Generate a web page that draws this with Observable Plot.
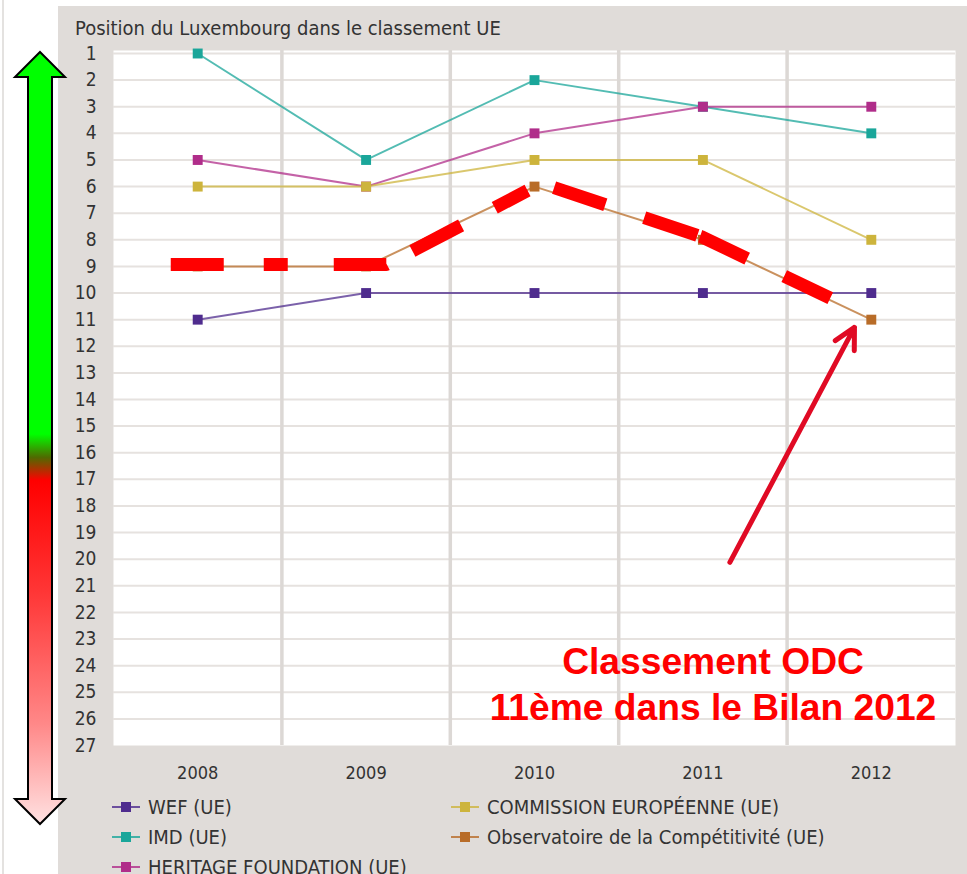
<!DOCTYPE html>
<html><head><meta charset="utf-8">
<script src="https://cdn.jsdelivr.net/npm/d3@7"></script>
<script src="https://cdn.jsdelivr.net/npm/@observablehq/plot@0.6"></script>
<style>
html,body{margin:0;padding:0;background:#fff;width:967px;height:874px;overflow:hidden;position:relative;}
.edge{position:absolute;left:2px;top:0;width:2px;height:874px;background:#e4e2e0;}
#panel{position:absolute;left:58px;top:6px;width:909px;height:868px;background:#e0dcd9;font-family:"DejaVu Sans Condensed","DejaVu Sans",sans-serif;font-stretch:condensed;color:#333;}
#title{height:34px;box-sizing:border-box;padding:10px 0 0 17px;font-size:20px;line-height:24px;white-space:nowrap;}
#chart svg{display:block;}
#chart [aria-label="y-axis tick label"] text{font-size:19px;}
#chart [aria-label="x-axis tick label"] text{font-size:18px;}
#legend{display:grid;grid-auto-flow:column;grid-template-rows:repeat(3,30px);grid-template-columns:339px auto;margin:7px 0 0 54px;font-size:20px;}
.item{display:flex;align-items:center;white-space:nowrap;}
.sw{position:relative;width:28px;height:10px;margin-right:8px;flex:none;}
.sw .ln{position:absolute;left:0;right:0;top:4px;height:2px;}
.sw .sq{position:absolute;left:9px;top:0;width:10px;height:10px;}
#bigarrow{position:absolute;left:0;top:0;}
</style>
</head><body>
<div class="edge"></div>
<div id="panel">
  <div id="title"></div>
  <div id="chart"></div>
  <div id="legend"></div>
</div>
<svg id="bigarrow" width="70" height="874">
  <defs>
    <linearGradient id="g" x1="0" y1="52" x2="0" y2="824" gradientUnits="userSpaceOnUse">
      <stop offset="0" stop-color="#00ff00"/>
      <stop offset="0.495" stop-color="#00ff00"/>
      <stop offset="0.525" stop-color="#4f6a00"/>
      <stop offset="0.555" stop-color="#ff0000"/>
      <stop offset="0.70" stop-color="#ff3636"/>
      <stop offset="0.87" stop-color="#ff8888"/>
      <stop offset="1" stop-color="#ffe2e2"/>
    </linearGradient>
  </defs>
  <path d="M40,52 L65,77 L52,77 L52,799 L65,799 L40,824 L15,799 L28,799 L28,77 L15,77 Z" fill="url(#g)" stroke="#000" stroke-width="2" stroke-linejoin="miter"/>
</svg>
<script>
// ---- data ----
const titleText = "Position du Luxembourg dans le classement UE";
const years = [2008, 2009, 2010, 2011, 2012];
const ranks = d3.range(1, 28);
const wef = [11, 10, 10, 10, 10];
const imd = [1, 5, 2, 3, 4];
const heritage = [5, 6, 4, 3, 3];
const commission = [6, 6, 5, 5, 8];
const observatoire = [9, 9, 6, 8, 11];
const seriesNames = ["WEF (UE)", "IMD (UE)", "HERITAGE FOUNDATION (UE)", "COMMISSION EUROPÉENNE (UE)", "Observatoire de la Compétitivité (UE)"];
const seriesColors = ["#4f2c8e", "#1aa69a", "#b02d8a", "#cdb43c", "#b86c28"];
const seriesValues = [wef, imd, heritage, commission, observatoire];
// hand-drawn red dashed highlight (in year / rank units)
const overlayX = [2007.84, 2009.12, 2010.04, 2010.99, 2011.76];
const overlayY = [8.93, 8.93, 5.88, 7.88, 10.2];
// red annotation arrow (year / rank units)
const arrowFrom = [2011.16, 20.12];
const arrowTo = [2011.9, 11.29];
const noteLines = ["Classement ODC", "11ème dans le Bilan 2012"];
const noteX = 2011.06;
const noteY = [23.86, 25.59];

document.getElementById("title").textContent = titleText;

const marks = [
  Plot.frame({fill: "white", stroke: null}),
  Plot.ruleY(ranks.slice(0, 26), {stroke: "#e6e2df", strokeWidth: 2}),
  Plot.ruleX(years.slice(1).map(y => y - 0.5), {stroke: "#dcd8d5", strokeWidth: 3.5})
];
seriesValues.forEach((vals, s) => {
  const pts = years.map((y, i) => ({year: y, rank: vals[i]}));
  marks.push(Plot.line(pts, {x: "year", y: "rank", stroke: seriesColors[s], strokeWidth: 2, strokeOpacity: 0.75}));
  marks.push(Plot.dot(pts, {x: "year", y: "rank", symbol: "square", r: 5.6, fill: seriesColors[s], stroke: "none"}));
});
const overlay = overlayX.map((x, i) => ({x, y: overlayY[i]}));
marks.push(Plot.line(overlay, {x: "x", y: "y", stroke: "#ff0000", strokeWidth: 13, strokeLinecap: "butt",
  strokeDasharray: "53,40,24,46,53,29,55,38,37,29,54,41,56,3,52,41,51,200"}));
marks.push(Plot.arrow([{x1: arrowFrom[0], y1: arrowFrom[1], x2: arrowTo[0], y2: arrowTo[1]}],
  {x1: "x1", y1: "y1", x2: "x2", y2: "y2", stroke: "#e00a24", strokeWidth: 5, headLength: 7, headAngle: 55}));
marks.push(Plot.text(noteLines, {x: () => noteX, y: (d, i) => noteY[i], text: d => d, fill: "#ff0000",
  fontSize: 37.2, fontWeight: "bold", fontFamily: "Liberation Sans, Arial, sans-serif"}));

const chart = Plot.plot({
  width: 909, height: 745,
  marginLeft: 55, marginRight: 12, marginTop: 10, marginBottom: 40,
  style: {background: "transparent", color: "#333", fontFamily: "'DejaVu Sans Condensed','DejaVu Sans',sans-serif", fontStretch: "condensed"},
  x: {domain: [2007.5, 2012.5], ticks: years, tickFormat: d => String(d), tickSize: 0, tickPadding: 21, label: null},
  y: {domain: [0.887, 27], reverse: true, ticks: ranks, tickFormat: d => String(d), tickSize: 0, tickPadding: 17, label: null},
  marks
});
document.getElementById("chart").appendChild(chart);

// legend
const leg = document.getElementById("legend");
seriesNames.forEach((n, s) => {
  const it = document.createElement("div"); it.className = "item";
  it.innerHTML = `<span class="sw"><span class="ln" style="background:${seriesColors[s]};opacity:0.8"></span><span class="sq" style="background:${seriesColors[s]}"></span></span><span>${n}</span>`;
  leg.appendChild(it);
});
</script>
</body></html>
